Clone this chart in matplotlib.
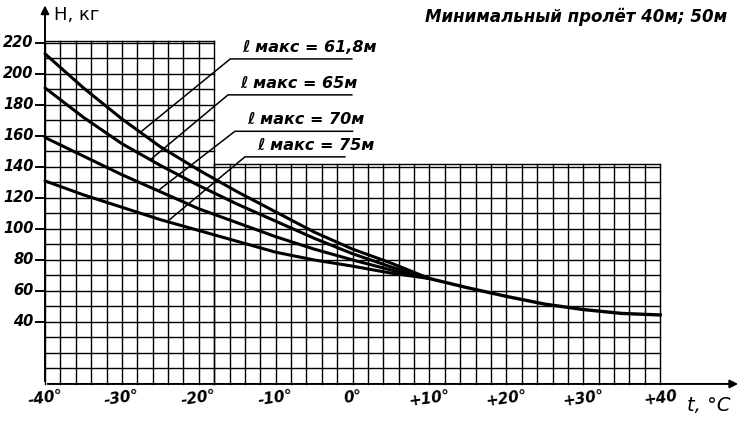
import numpy as np
import matplotlib
matplotlib.use("Agg")
import matplotlib.pyplot as plt

# температура, °C
t = [-40, -35, -30, -25, -20, -15, -10, -5, 0, 5, 10]
# тяжение H, кг для разных l макс
h_618 = [213, 191, 171, 153, 138, 124, 111, 98, 87, 78, 68]
h_65 = [191, 172, 155, 141, 128, 116, 105, 94, 84, 75.5, 68]
h_70 = [159, 147, 135, 124, 113, 104, 95, 87, 80, 73.5, 68]
h_75 = [131, 122, 114, 106, 99, 92, 85, 80, 76, 71.5, 68]
# общий участок после +10°
t_tail = [10, 15, 20, 25, 30, 35, 40]
h_tail = [68, 62, 56.5, 51.5, 48, 45.5, 44.5]

labels = ["61,8м", "65м", "70м", "75м"]
x_ticks = [-40, -30, -20, -10, 0, 10, 20, 30, 40]
x_tick_labels = ["-40°", "-30°", "-20°", "-10°", "0°", "+10°", "+20°", "+30°", "+40"]
y_ticks = [40, 60, 80, 100, 120, 140, 160, 180, 200, 220]

FONT = dict(family="DejaVu Sans", style="italic", weight="bold", color="black")


def setka(ax):
    # левый высокий кусок миллиметровки и правый низкий
    lw = 1.0
    for x in np.arange(-40, -17, 2):
        ax.plot([x, x], [0, 221], color="black", lw=lw)
    for y in np.arange(10, 221, 10):
        ax.plot([-40, -18], [y, y], color="black", lw=lw)
    ax.plot([-40, -18], [221, 221], color="black", lw=lw)
    for x in np.arange(-18, 41, 2):
        ax.plot([x, x], [0, 142], color="black", lw=lw)
    for y in np.arange(10, 141, 10):
        ax.plot([-18, 40], [y, y], color="black", lw=lw)
    ax.plot([-18, 40], [142, 142], color="black", lw=lw)


def osi(ax):
    ax.annotate("", xy=(-40, 246), xytext=(-40, 0),
                arrowprops=dict(arrowstyle="-|>", color="black", lw=1.4, mutation_scale=12))
    ax.annotate("", xy=(50.5, 0), xytext=(-40, 0),
                arrowprops=dict(arrowstyle="-|>", color="black", lw=1.4, mutation_scale=12))
    for y in y_ticks:
        ax.plot([-41.2, -40], [y, y], color="black", lw=1.4)
        ax.text(-41.5, y, str(y), ha="right", va="center", fontsize=10.5, **FONT)
    for x, s in zip(x_ticks, x_tick_labels):
        ax.text(x, -3, s, ha="center", va="top", fontsize=11, rotation=8, **FONT)
    ax.text(-38.8, 238, "H, кг", ha="left", va="center", fontsize=13,
            family="DejaVu Sans", color="black")
    ax.text(43.5, -14, "t, °C", ha="left", va="center", fontsize=14,
            family="DejaVu Sans", style="italic", color="black")
    ax.text(9.4, 237, "Минимальный пролёт 40м; 50м", ha="left", va="center",
            fontsize=12, **FONT)


def podpisi(ax, curves):
    # выноски: точка на кривой -> полка с подписью
    shelves = [(-27.6, 209.7, -15.9, -0.1),
               (-26.3, 186.5, -16.2, -0.1),
               (-25.3, 163.0, -15.3, 0.0),
               (-24.1, 146.5, -14.0, -1.0)]
    for h, lab, (tx, hy, x0, x1) in zip(curves, labels, shelves):
        hy_curve = np.interp(tx, t, h)
        ax.plot([tx, x0, x1], [hy_curve, hy, hy], color="black", lw=1.1)
        ax.text(x0 + 1.6, hy + 2.5, "ℓ макс = " + lab, ha="left", va="bottom",
                fontsize=11.5, **FONT)


fig = plt.figure(figsize=(7.43, 4.21), dpi=100)
ax = fig.add_axes([0, 0, 1, 1])
ax.set_xlim(-45.85, 50.77)
ax.set_ylim(-23.9, 247.7)
ax.axis("off")

setka(ax)
osi(ax)

curves = [h_618, h_65, h_70, h_75]
for h in curves:
    ax.plot(t, h, color="black", lw=2.2, solid_joinstyle="round", solid_capstyle="round")
ax.plot(t_tail, h_tail, color="black", lw=2.4, solid_joinstyle="round")

podpisi(ax, curves)

fig.savefig("out.png", dpi=100, facecolor="white")
